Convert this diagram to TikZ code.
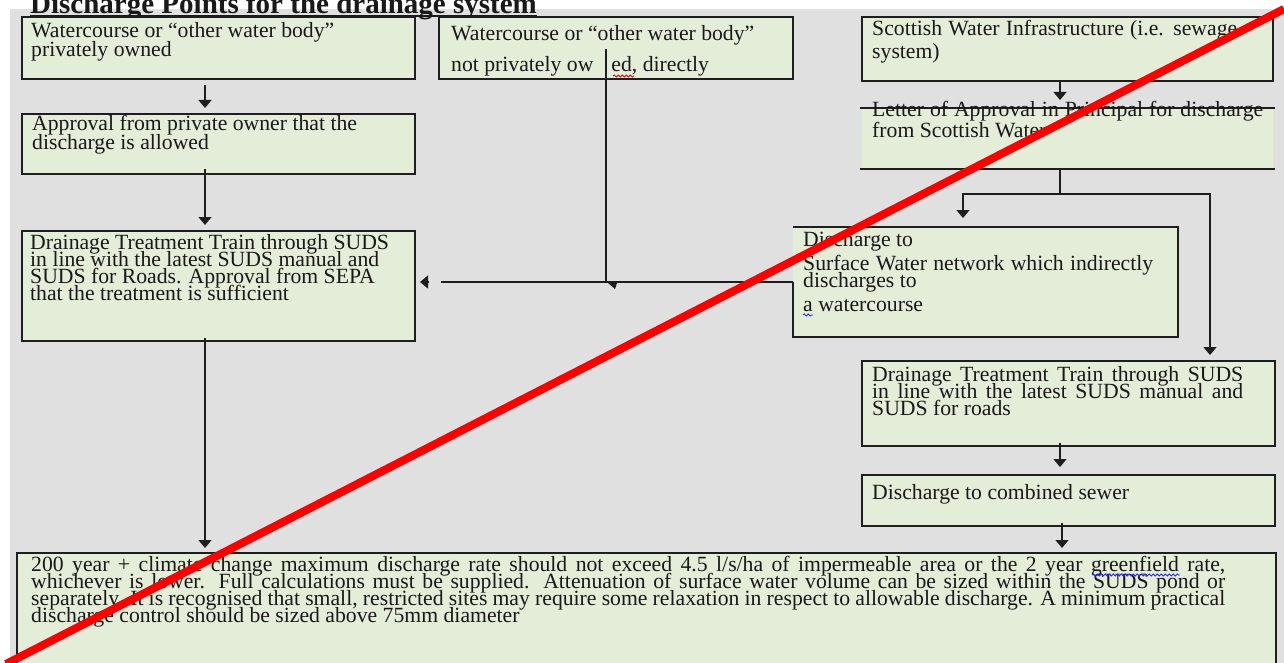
\documentclass[tikz,border=0pt]{standalone}
\usepackage{fontspec}
\setmainfont{Liberation Serif}
\usetikzlibrary{arrows.meta,calc,decorations.pathmorphing}
\definecolor{boxc}{RGB}{227,237,216}
\definecolor{bgc}{RGB}{224,224,224}
\definecolor{linec}{RGB}{30,30,30}
\definecolor{textc}{RGB}{25,25,25}
\newcommand\tlines[2]{\vtop{\baselineskip=#1\relax\lineskiplimit=-\maxdimen\relax #2}}
\begin{document}
\begin{tikzpicture}[x=1pt,y=-1pt,
  box/.style={fill=boxc, draw=linec, line width=1.4pt, anchor=north west, inner sep=0pt, outer sep=0pt},
  boxfill/.style={fill=boxc, draw=none, anchor=north west, inner sep=0pt, outer sep=0pt},
  boxline/.style={draw=linec, line width=1.4pt},
  txt/.style={anchor=base west, inner sep=0pt, font=\fontsize{21.7}{17}\selectfont, text=textc},
  conn/.style={draw=linec, line width=1.4pt},
  arr/.style={conn, -{Triangle[width=13pt,length=8pt]}},
  wavy/.style={decorate, decoration={snake, amplitude=1pt, segment length=4pt}, line width=0.8pt}
]
\useasboundingbox (0,0) rectangle (1284,663);
\clip (0,0) rectangle (1284,663);
\fill[white] (0,0) rectangle (1284,663);
\fill[bgc] (10,9) rectangle (1284,663);

% title (cut off at the top)
\node[anchor=base west, inner sep=0pt, font=\bfseries\fontsize{29}{29}\selectfont, text=textc] (title) at (30,14) {Discharge Points for the drainage system};
\draw[line width=1.5pt, textc] ([yshift=-2pt]title.base west) -- ([yshift=-2pt]title.base east);

% boxes
\node[box, minimum width=393pt, minimum height=62pt] (A) at (22,17) {};
\node[box, minimum width=393pt, minimum height=60pt] (B) at (22,114) {};
\node[box, minimum width=354pt, minimum height=62pt] (C) at (439,17) {};
\node[box, minimum width=411pt, minimum height=64pt] (D) at (862,17) {};
\node[boxfill, minimum width=411pt, minimum height=61pt] (E) at (862,108) {};
\draw[boxline] ([xshift=-2pt]E.north west) -- ([xshift=2pt]E.north east);
\draw[boxline] ([xshift=-2pt]E.south west) -- ([xshift=2pt]E.south east);
\node[box, minimum width=393pt, minimum height=110pt] (F) at (22,231) {};
\node[boxfill, minimum width=385pt, minimum height=110pt] (G) at (793,227) {};
\draw[boxline] (G.west) -- (G.south west) -- (G.south east) -- (G.north east) -- (G.north west);
\node[box, minimum width=413pt, minimum height=85pt] (H) at (862,361) {};
\node[box, minimum width=413pt, minimum height=51pt] (I) at (862,475) {};
\node[box, minimum width=1259pt, minimum height=115pt] (J) at (17,553) {};

% texts
\node[txt] (At) at (31,38) {\tlines{19pt}{\hbox{Watercourse or “other water body”}\hbox{privately owned}}};
\node[txt] (Bt) at (32,131) {\tlines{19pt}{\hbox{Approval from private owner that the}\hbox{discharge is allowed}}};
\node[txt] (Ct) at (451,41) {\tlines{31pt}{\hbox{Watercourse or “other water body”}\hbox{not privately ow\hspace{18pt}ed, directly}}};
\node[txt] (Dt) at (872,36) {\tlines{23pt}{\hbox to 365pt{Scottish Water Infrastructure (i.e. sewage}\hbox{system)}}};
\node[txt] (Et) at (872,117) {\tlines{21pt}{\hbox to 391pt{Letter of Approval in Principal for discharge}\hbox{from Scottish Water}}};
\node[txt] (Ft) at (30,249) {\tlines{17pt}{\hbox{Drainage Treatment Train through SUDS}\hbox{in line with the latest SUDS manual and}\hbox{SUDS for Roads. Approval from SEPA}\hbox{that the treatment is sufficient}}};
\node[txt] (Gt) at (803,246) {\tlines{24pt}{\hbox{Discharge to}\hbox to 350pt{Surface Water network which indirectly}\vskip-7pt\hbox{discharges to}\vskip0pt\hbox{a watercourse}}};
\node[txt] (Ht) at (872,381) {\tlines{17pt}{\hbox to 371pt{Drainage Treatment Train through SUDS}\hbox to 371pt{in line with the latest SUDS manual and}\hbox{SUDS for roads}}};
\node[txt] (It) at (872,499) {Discharge to combined sewer};
\node[txt] (Jt) at (31,571) {\tlines{17pt}{\hbox to 1194pt{200 year + climate change maximum discharge rate should not exceed 4.5 l/s/ha of impermeable area or the 2 year greenfield rate,}\hbox to 1194pt{whichever is lower. Full calculations must be supplied. Attenuation of surface water volume can be sized within the SUDS pond or}\hbox to 1194pt{separately. It is recognised that small, restricted sites may require some relaxation in respect to allowable discharge. A minimum practical}\hbox{discharge control should be sized above 75mm diameter}}};

% connector x positions
\coordinate (lx) at (205,0);
\coordinate (cx) at (606,0);
\coordinate (dx) at (1060,0);
\coordinate (j1) at (1060,194);
\coordinate (gx) at (963,0);
\coordinate (hx) at (1210,0);
\coordinate (ix) at (1062,0);

% connectors
\draw[arr, shorten <=6pt, shorten >=6pt] (A.south -| lx) -- (B.north -| lx);
\draw[arr, shorten <=-5pt, shorten >=6pt] (B.south -| lx) -- (F.north -| lx);
\draw[arr, shorten <=-3pt, shorten >=5pt] (F.south -| lx) -- (J.north -| lx);

\draw[conn] ([yshift=30pt]C.south -| cx) -- (G.west -| cx);
\fill[linec] (608,283) -- (617,283) -- (615,289) -- cycle;
\draw[conn] (G.west) -- ($(F.east |- G.west)+(26,0)$);
\draw[arr] ($(F.east |- G.west)+(14,0)$) -- ($(F.east |- G.west)+(5,0)$);

\draw[arr, shorten >=8pt] (D.south -| dx) -- (E.north -| dx);
\draw[conn] (E.south -| j1) -- (j1);
\draw[arr, shorten >=9pt] (j1) -| (G.north -| gx);
\draw[arr, shorten >=6pt] (j1) -| (H.north -| hx);
\draw[arr, shorten <=-3pt, shorten >=8pt] (H.south -| dx) -- (I.north -| dx);
\draw[arr, shorten <=-3pt, shorten >=5pt] (I.south -| ix) -- (J.north -| ix);

% spell-check underlines
\draw[wavy, red!90!black] (613,76) -- (634,76);
\draw[wavy, blue!85!white] (803,315) -- (813,315);
\draw[wavy, blue!85!white] (1092,575) -- (1180,575);

% red cross-out line
\draw[red, line width=8pt] (6,664) -- (1284,9);
\end{tikzpicture}
\end{document}
